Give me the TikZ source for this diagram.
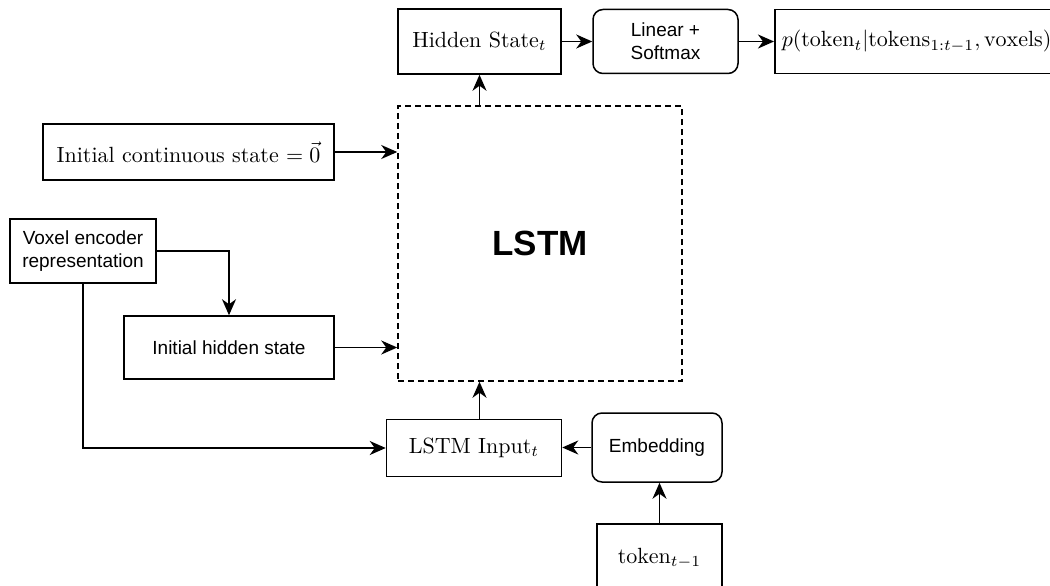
\documentclass[tikz,border=0pt]{standalone}
\usepackage{fontspec}
\newfontfamily\arialf{Liberation Sans}
\usetikzlibrary{arrows.meta}
\newcommand{\bigtxt}[1]{\scalebox{2.2}{#1}}
\begin{document}
\begin{tikzpicture}[x=1pt,y=-1pt,
  box/.style={draw, line width=1.5pt, inner sep=0pt, align=center, fill=white},
  sanstxt/.style={font=\arialf\fontsize{19}{23}\selectfont},
  rbox/.style={box, rounded corners=10pt},
  arr/.style={line width=1.6pt, -{Stealth[length=16pt,width=14pt,inset=5pt]}},
]
\useasboundingbox (0,0) rectangle (1050,586);
% top row
\node[box,minimum width=163pt,minimum height=65pt] (hidden) at (479.5,41.5) {\bigtxt{Hidden State$_t$}};
\node[rbox,sanstxt,minimum width=145pt,minimum height=64pt] (linear) at (665.5,41.5) {Linear +\\Softmax};
\node[box,anchor=west,minimum height=64pt,inner xsep=7pt] (prob) at (774,41.5)
  {\bigtxt{$p(\mathrm{token}_t|\mathrm{tokens}_{1:t-1},\mathrm{voxels})$}};
% LSTM
\node[draw,line width=1.5pt,dash pattern=on 6pt off 4pt,minimum width=284pt,minimum height=275pt,
  font=\arialf\bfseries\fontsize{35}{40}\selectfont] (lstm) at (540,243.5) {LSTM};
% left column
\node[box,minimum width=291pt,minimum height=56pt] (ic) at (188.5,152) {\bigtxt{Initial continuous state $=\vec{0}$}};
\node[box,sanstxt,minimum width=146pt,minimum height=64pt] (voxel) at (83,251) {Voxel encoder\\representation};
\node[box,sanstxt,minimum width=210pt,minimum height=63pt] (ih) at (229,347.5) {Initial hidden state};
% bottom
\node[box,minimum width=175pt,minimum height=57pt] (li) at (474,448) {\bigtxt{LSTM Input$_t$}};
\node[rbox,sanstxt,minimum width=130pt,minimum height=69pt] (emb) at (657,447.5) {Embedding};
\node[box,minimum width=125pt,minimum height=68pt] (token) at (659.5,558) {\bigtxt{$\mathrm{token}_{t-1}$}};
% connectors
\draw[arr] (lstm.north -| hidden.south) -- (hidden.south);
\draw[arr] (hidden.east) -- (hidden.east -| linear.west);
\draw[arr] (linear.east) -- (linear.east -| prob.west);
\draw[arr] (ic.east) -- (ic.east -| lstm.west);
\draw[arr] (ih.east) -- (ih.east -| lstm.west);
\draw[arr] (voxel.east) -| (ih.north);
\draw[arr] (voxel.south) |- (li.west);
\draw[arr] (li.north -| hidden.south) -- (lstm.south -| hidden.south);
\draw[arr] (emb.west) -- (emb.west -| li.east);
\draw[arr] (token.north) -- (token.north |- emb.south);
\end{tikzpicture}
\end{document}
